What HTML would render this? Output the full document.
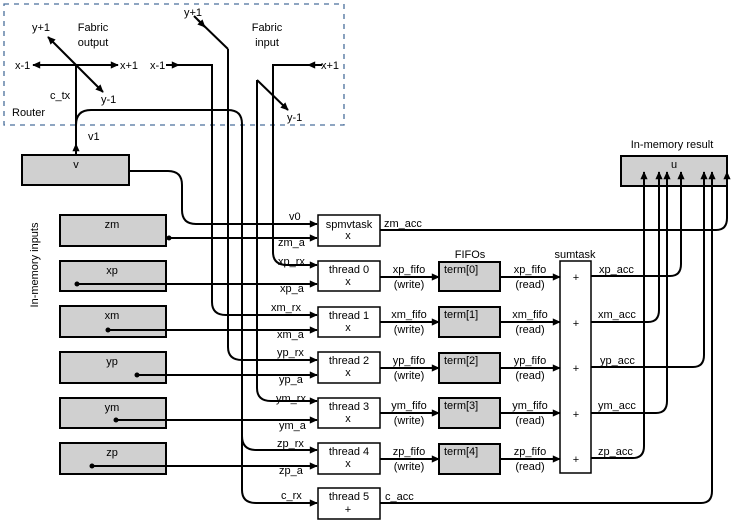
<!DOCTYPE html>
<html><head><meta charset="utf-8"><style>
html,body{margin:0;padding:0;background:#fff;}
svg{display:block;font-family:"Liberation Sans",Arial,sans-serif;font-size:11px;}
</style></head><body>
<svg width="731" height="523" viewBox="0 0 731 523" xmlns="http://www.w3.org/2000/svg">
<defs>
<marker id="a" viewBox="0 0 10 10" refX="9" refY="5" markerWidth="9" markerHeight="8" orient="auto" markerUnits="userSpaceOnUse"><path d="M0,0.5 L10,5 L0,9.5 z" fill="#000"/></marker>
</defs>
<!-- router -->
<rect x="4" y="4" width="340" height="121" fill="none" stroke="#4a6f9c" stroke-width="1.3" stroke-dasharray="5,5"/>
<!-- boxes -->
<g stroke="#000" stroke-width="2" fill="#d0d0d0">
<rect x="22" y="155" width="107" height="30"/>
<rect x="621" y="156" width="106" height="30"/>
<rect x="60" y="215" width="106" height="31"/>
<rect x="60" y="261" width="106" height="30"/>
<rect x="60" y="306" width="106" height="31"/>
<rect x="60" y="352" width="106" height="31"/>
<rect x="60" y="398" width="106" height="30"/>
<rect x="60" y="443" width="106" height="31"/>
<rect x="439" y="262" width="61" height="29"/>
<rect x="439" y="307" width="61" height="30"/>
<rect x="439" y="353" width="61" height="30"/>
<rect x="439" y="398" width="61" height="30"/>
<rect x="439" y="444" width="61" height="30"/>
</g>
<g stroke="#000" stroke-width="1.5" fill="#fff">
<rect x="318" y="215" width="62" height="31"/>
<rect x="318" y="261" width="62" height="30"/>
<rect x="318" y="307" width="62" height="30"/>
<rect x="318" y="352" width="62" height="31"/>
<rect x="318" y="398" width="62" height="30"/>
<rect x="318" y="443" width="62" height="31"/>
<rect x="318" y="488" width="62" height="31"/>
<rect x="560" y="261" width="31" height="212"/>
</g>
<g fill="none" stroke="#000" stroke-width="2">
<!-- fabric output -->
<line x1="76" y1="65" x2="33" y2="65" marker-end="url(#a)"/>
<line x1="76" y1="65" x2="118" y2="65" marker-end="url(#a)"/>
<line x1="76" y1="65" x2="48" y2="37" marker-end="url(#a)"/>
<line x1="76" y1="65" x2="103" y2="92" marker-end="url(#a)"/>
<line x1="76" y1="155" x2="76" y2="65"/>
<line x1="76" y1="152" x2="76" y2="144" marker-end="url(#a)"/>
<!-- c_tx loop -->
<path d="M76,125 Q76,110 91,110 H228 Q242,110 242,124 V490 Q242,503 256,503 H317" marker-end="url(#a)"/>
<path d="M242,436 Q242,450 256,450 H317" marker-end="url(#a)"/>
<!-- fabric input -->
<path d="M172,65 H212 V302 Q212,315 226,315 H317" marker-end="url(#a)"/>
<line x1="166" y1="65" x2="179" y2="65" marker-end="url(#a)"/>
<path d="M228,49 V347 Q228,360 242,360 H317" marker-end="url(#a)"/>
<line x1="228" y1="49" x2="198" y2="20"/>
<line x1="194" y1="16" x2="205" y2="27" marker-end="url(#a)"/>
<path d="M257,80 V388 Q257,401 271,401 H317" marker-end="url(#a)"/>
<line x1="257" y1="80" x2="288" y2="110" marker-end="url(#a)"/>
<path d="M320,65 H273 V252 Q273,265 287,265 H317" marker-end="url(#a)"/>
<line x1="322" y1="65" x2="308" y2="65" marker-end="url(#a)"/>
<!-- v output -->
<path d="M129,171 H168 Q182,171 182,185 V210 Q182,224 196,224 H317" marker-end="url(#a)"/>
<!-- inputs -->
<line x1="169" y1="238" x2="317" y2="238" marker-end="url(#a)"/>
<line x1="77" y1="284" x2="317" y2="284" marker-end="url(#a)"/>
<line x1="108" y1="330" x2="317" y2="330" marker-end="url(#a)"/>
<line x1="137" y1="375" x2="317" y2="375" marker-end="url(#a)"/>
<line x1="116" y1="420" x2="317" y2="420" marker-end="url(#a)"/>
<line x1="92" y1="466" x2="317" y2="466" marker-end="url(#a)"/>
<!-- fifo arrows -->
<line x1="380" y1="277" x2="439" y2="277" marker-end="url(#a)"/>
<line x1="380" y1="322" x2="439" y2="322" marker-end="url(#a)"/>
<line x1="380" y1="368" x2="439" y2="368" marker-end="url(#a)"/>
<line x1="380" y1="413" x2="439" y2="413" marker-end="url(#a)"/>
<line x1="380" y1="459" x2="439" y2="459" marker-end="url(#a)"/>
<line x1="500" y1="277" x2="560" y2="277" marker-end="url(#a)"/>
<line x1="500" y1="322" x2="560" y2="322" marker-end="url(#a)"/>
<line x1="500" y1="368" x2="560" y2="368" marker-end="url(#a)"/>
<line x1="500" y1="413" x2="560" y2="413" marker-end="url(#a)"/>
<line x1="500" y1="459" x2="560" y2="459" marker-end="url(#a)"/>
<!-- acc -->
<path d="M591,276 H670 Q681,276 681,264 V172" marker-end="url(#a)"/>
<path d="M591,322 H648 Q659,322 659,310 V172" marker-end="url(#a)"/>
<path d="M591,367 H693 Q704,367 704,355 V172" marker-end="url(#a)"/>
<path d="M591,413 H656 Q667,413 667,401 V172" marker-end="url(#a)"/>
<path d="M591,458 H633 Q644,458 644,446 V172" marker-end="url(#a)"/>
<path d="M380,503 H701 Q712,503 712,491 V172" marker-end="url(#a)"/>
<path d="M380,230 H716 Q727,230 727,218 V172" marker-end="url(#a)"/>
</g>
<g fill="#000">
<circle cx="169" cy="238" r="2.5"/><circle cx="77" cy="284" r="2.5"/><circle cx="108" cy="330" r="2.5"/>
<circle cx="137" cy="375" r="2.5"/><circle cx="116" cy="420" r="2.5"/><circle cx="92" cy="466" r="2.5"/>
</g>
<g fill="#000">
<text x="15" y="69">x-1</text><text x="120" y="69">x+1</text>
<text x="32" y="31">y+1</text><text x="101" y="103">y-1</text>
<text x="93" y="31" text-anchor="middle">Fabric</text><text x="93" y="46" text-anchor="middle">output</text>
<text x="50" y="99">c_tx</text><text x="12" y="116">Router</text><text x="88" y="140">v1</text>
<text x="184" y="16">y+1</text><text x="150" y="69">x-1</text>
<text x="267" y="31" text-anchor="middle">Fabric</text><text x="267" y="46" text-anchor="middle">input</text>
<text x="321" y="69">x+1</text><text x="287" y="121">y-1</text>
<text x="76" y="168" text-anchor="middle">v</text>
<text x="672" y="148" text-anchor="middle">In-memory result</text>
<text x="674" y="168" text-anchor="middle">u</text>
<text x="112" y="228" text-anchor="middle">zm</text><text x="112" y="274" text-anchor="middle">xp</text>
<text x="112" y="319" text-anchor="middle">xm</text><text x="112" y="365" text-anchor="middle">yp</text>
<text x="112" y="411" text-anchor="middle">ym</text><text x="112" y="456" text-anchor="middle">zp</text>
<text transform="translate(38,265) rotate(-90)" text-anchor="middle">In-memory inputs</text>
<text x="289" y="220">v0</text><text x="278" y="246">zm_a</text>
<text x="278" y="265">xp_rx</text><text x="280" y="292">xp_a</text>
<text x="271" y="311">xm_rx</text><text x="277" y="338">xm_a</text>
<text x="277" y="356">yp_rx</text><text x="279" y="383">yp_a</text>
<text x="276" y="402">ym_rx</text><text x="279" y="429">ym_a</text>
<text x="277" y="447">zp_rx</text><text x="279" y="474">zp_a</text>
<text x="281" y="499">c_rx</text>
<g text-anchor="middle">
<text x="349" y="228">spmvtask</text><text x="348" y="239">x</text>
<text x="349" y="273">thread 0</text><text x="348" y="285">x</text>
<text x="349" y="319">thread 1</text><text x="348" y="331">x</text>
<text x="349" y="364">thread 2</text><text x="348" y="376">x</text>
<text x="349" y="410">thread 3</text><text x="348" y="422">x</text>
<text x="349" y="455">thread 4</text><text x="348" y="467">x</text>
<text x="349" y="500">thread 5</text><text x="348" y="513">+</text>
<text x="409" y="273">xp_fifo</text><text x="409" y="288">(write)</text>
<text x="409" y="318">xm_fifo</text><text x="409" y="333">(write)</text>
<text x="409" y="364">yp_fifo</text><text x="409" y="379">(write)</text>
<text x="409" y="409">ym_fifo</text><text x="409" y="424">(write)</text>
<text x="409" y="455">zp_fifo</text><text x="409" y="470">(write)</text>
<text x="530" y="273">xp_fifo</text><text x="530" y="288">(read)</text>
<text x="530" y="318">xm_fifo</text><text x="530" y="333">(read)</text>
<text x="530" y="364">yp_fifo</text><text x="530" y="379">(read)</text>
<text x="530" y="409">ym_fifo</text><text x="530" y="424">(read)</text>
<text x="530" y="455">zp_fifo</text><text x="530" y="470">(read)</text>
<text x="470" y="258">FIFOs</text><text x="575" y="258">sumtask</text>
<text x="576" y="281">+</text><text x="576" y="327">+</text><text x="576" y="372">+</text><text x="576" y="418">+</text><text x="576" y="463">+</text>
</g>
<text x="444" y="273">term[0]</text><text x="444" y="318">term[1]</text><text x="444" y="364">term[2]</text>
<text x="444" y="409">term[3]</text><text x="444" y="455">term[4]</text>
<text x="384" y="227">zm_acc</text><text x="385" y="500">c_acc</text>
<text x="599" y="273">xp_acc</text><text x="598" y="318">xm_acc</text><text x="600" y="364">yp_acc</text>
<text x="598" y="409">ym_acc</text><text x="598" y="455">zp_acc</text>
</g>
</svg>
</body></html>
